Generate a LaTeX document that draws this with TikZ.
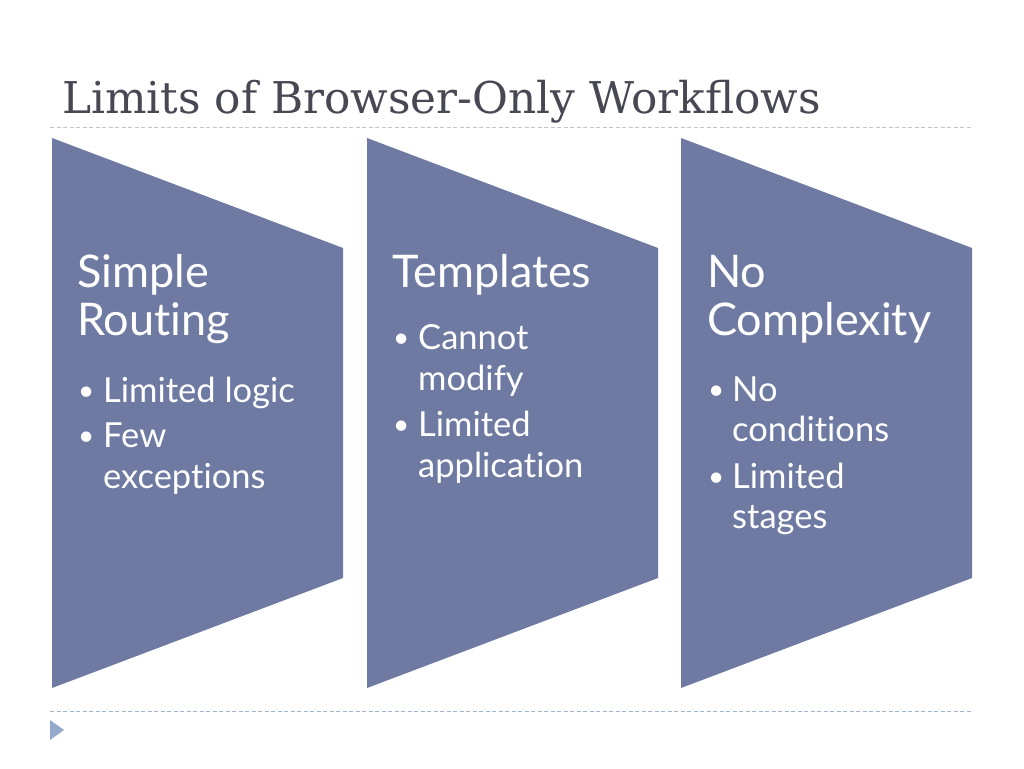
\documentclass[tikz,border=0pt]{standalone}
\usepackage{fontspec}
\setmainfont{Lato}[RawFeature=-liga]
\newfontfamily\titlefont{DejaVu Serif}
\definecolor{boxfill}{RGB}{110,122,161}
\definecolor{titlecol}{RGB}{72,72,84}
\definecolor{rulecol}{RGB}{190,198,210}
\definecolor{rulecolb}{RGB}{160,180,205}
\definecolor{tricol}{RGB}{148,170,203}
\begin{document}
\begin{tikzpicture}[x=1pt,y=-1pt,
  panel/.style={fill=boxfill,draw=none},
  head/.style={anchor=base west,inner sep=0pt,text=white,font=\fontsize{45}{50}\selectfont},
  item/.style={anchor=base west,inner sep=0pt,text=white,font=\fontsize{34.5}{40}\selectfont},
  bul/.style={anchor=base west,inner sep=0pt,text=white,font=\fontsize{28}{34}\selectfont},
  rulestyle/.style={draw=rulecol,line width=1pt,dash pattern=on 4pt off 2.5pt}]
\useasboundingbox (0,0) rectangle (1024,768);
\fill[white] (0,0) rectangle (1024,768);
% title
\node[anchor=base west,inner sep=0pt,text=titlecol,font=\titlefont\fontsize{43.8}{50}\selectfont] (title) at (62,113) {Limits of Browser-Only Workflows};
% rules
\coordinate (r1a) at (50,127); \coordinate (r1b) at (973,127);
\coordinate (r2a) at (50,711); \coordinate (r2b) at (973,711);
\draw[rulestyle] (r1a) -- (r1b);
\draw[rulestyle,draw=rulecolb] (r2a) -- (r2b);
\fill[tricol] (50,720) -- (64,730) -- (50,740) -- cycle;
% panels
\foreach \xl in {52,367,681}{
  \fill[panel] (\xl,138) -- (\xl+291,248) -- (\xl+291,578) -- (\xl,688) -- cycle;
}
% column 1
\node[head] (h1a) at (77,287) {Simple};
\node[head] (h1b) at (77,335) {Routing};
\node[bul] (b1a) at (78,400) {•};
\node[item] (t1a) at (103,402) {Limited logic};
\node[bul] (b1b) at (78,445) {•};
\node[item] (t1b) at (103,447) {Few};
\node[item] (t1c) at (103,488) {exceptions};
% column 2
\node[head] (h2a) at (392,287) {Templates};
\node[bul] (b2a) at (393,347) {•};
\node[item] (t2a) at (418,349) {Cannot};
\node[item] (t2b) at (418,390) {modify};
\node[bul] (b2b) at (393,434) {•};
\node[item] (t2c) at (418,436) {Limited};
\node[item] (t2d) at (418,477) {application};
% column 3
\node[head] (h3a) at (707,287) {No};
\node[head] (h3b) at (707,335) {Complexity};
\node[bul] (b3a) at (708,399) {•};
\node[item] (t3a) at (732,401) {No};
\node[item] (t3b) at (732,441) {conditions};
\node[bul] (b3b) at (708,486) {•};
\node[item] (t3c) at (732,488) {Limited};
\node[item] (t3d) at (732,528) {stages};
\end{tikzpicture}
\end{document}
